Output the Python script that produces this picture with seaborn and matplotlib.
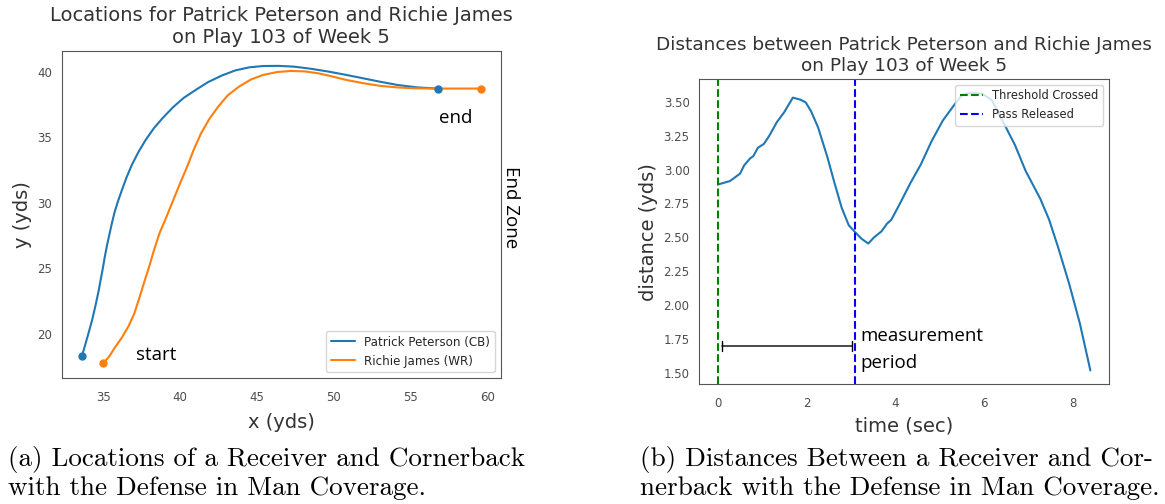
import matplotlib
matplotlib.use("Agg")
import matplotlib.pyplot as plt
import seaborn as sns
import pandas as pd

# player tracks (yards)
cb_x = [33.61, 33.83, 34.05, 34.28, 34.50, 34.70, 34.84, 34.97, 35.10, 35.25,
        35.40, 35.57, 35.74, 35.95, 36.19, 36.50, 36.86, 37.30, 37.76, 38.30,
        38.89, 39.55, 40.23, 41.00, 41.81, 42.70, 43.60, 44.50, 45.40, 46.40,
        47.42, 48.50, 49.67, 50.80, 51.91, 53.00, 54.16, 55.40, 56.74]
cb_y = [18.30, 19.19, 20.10, 21.09, 22.20, 23.30, 24.20, 25.00, 25.90, 26.80,
        27.60, 28.50, 29.30, 30.10, 30.90, 31.90, 32.90, 33.90, 34.80, 35.70,
        36.50, 37.30, 38.00, 38.60, 39.20, 39.70, 40.10, 40.33, 40.43, 40.44,
        40.38, 40.22, 40.00, 39.75, 39.49, 39.23, 38.98, 38.80, 38.71]
wr_x = [35.00, 35.40, 35.74, 36.20, 36.64, 37.00, 37.31, 37.65, 37.99, 38.30,
        38.66, 39.10, 39.56, 40.00, 40.46, 40.90, 41.36, 41.90, 42.48, 43.10,
        43.83, 44.60, 45.40, 46.30, 47.20, 48.10, 49.00, 49.90, 50.79, 51.90,
        53.04, 54.20, 55.28, 56.40, 57.53, 58.50, 59.55]
wr_y = [17.74, 18.30, 18.93, 19.70, 20.58, 21.50, 22.61, 23.90, 25.15, 26.40,
        27.69, 28.90, 30.23, 31.50, 32.77, 34.10, 35.30, 36.40, 37.34, 38.20,
        38.86, 39.40, 39.75, 39.97, 40.05, 40.02, 39.87, 39.63, 39.37, 39.12,
        38.91, 38.79, 38.73, 38.71, 38.71, 38.71, 38.71]

# distance between the two players over time
time_sec = [0.00, 0.27, 0.39, 0.50, 0.59, 0.72, 0.80, 0.90, 1.04, 1.16, 1.33, 1.49,
            1.69, 1.86, 1.98, 2.10, 2.26, 2.47, 2.63, 2.79, 2.95, 3.09, 3.24, 3.39,
            3.52, 3.69, 3.81, 3.91, 4.09, 4.34, 4.58, 4.82, 5.07, 5.36, 5.51, 5.70,
            5.96, 6.18, 6.45, 6.70, 6.94, 7.27, 7.47, 7.67, 7.92, 8.16, 8.40]
distance = [2.89, 2.915, 2.944, 2.97, 3.03, 3.08, 3.10, 3.16, 3.19, 3.25, 3.35, 3.42,
            3.53, 3.515, 3.495, 3.43, 3.31, 3.09, 2.90, 2.72, 2.59, 2.54, 2.49, 2.455,
            2.50, 2.545, 2.60, 2.63, 2.74, 2.90, 3.04, 3.21, 3.36, 3.49, 3.55, 3.565,
            3.56, 3.51, 3.34, 3.18, 2.99, 2.785, 2.63, 2.43, 2.16, 1.87, 1.52]
threshold_t = 0.0
pass_t = 3.1

title_loc = "Locations for Patrick Peterson and Richie James\non Play 103 of Week 5"
title_dist = "Distances between Patrick Peterson and Richie James\non Play 103 of Week 5"
cap_a = ["(a) Locations of a Receiver and Cornerback",
         "with the Defense in Man Coverage."]
cap_b = ["(b) Distances Between a Receiver and Cor-",
         "nerback with the Defense in Man Coverage."]

sns.set_style("white")
W, H = 1165, 504
fig = plt.figure(figsize=(W / 100, H / 100), dpi=100)

def box(x0, y0, x1, y1):
    return [x0 / W, 1 - y1 / H, (x1 - x0) / W, (y1 - y0) / H]

ann = dict(family=["Open Sans", "DejaVu Sans"], color="black")

# ---- left: locations
ax1 = fig.add_axes(box(62, 51, 500.7, 378.3))
cb = pd.DataFrame({"x": cb_x, "y": cb_y})
wr = pd.DataFrame({"x": wr_x, "y": wr_y})
sns.lineplot(data=cb, x="x", y="y", sort=False, ax=ax1, color="#1f77b4",
             lw=1.5, label="Patrick Peterson (CB)")
sns.lineplot(data=wr, x="x", y="y", sort=False, ax=ax1, color="#ff7f0e",
             lw=1.5, label="Richie James (WR)")
ax1.scatter([cb_x[0], cb_x[-1]], [cb_y[0], cb_y[-1]], color="#1f77b4", s=25, zorder=3)
ax1.scatter([wr_x[0], wr_x[-1]], [wr_y[0], wr_y[-1]], color="#ff7f0e", s=25, zorder=3)
ax1.set_title(title_loc, fontsize=14, color=".2")
ax1.set_xlabel("x (yds)", fontsize=14, color=".2", labelpad=6)
ax1.set_ylabel("y (yds)", fontsize=14, color=".2")
ax1.legend(loc="lower right", fontsize=8.6)

# ---- right: distances
ax2 = fig.add_axes(box(699.3, 79, 1109, 384.3))
dist = pd.DataFrame({"time": time_sec, "distance": distance})
sns.lineplot(data=dist, x="time", y="distance", ax=ax2, color="#1f77b4", lw=1.5)
ax2.axvline(threshold_t, color="green", ls="--", lw=1.5, label="Threshold Crossed")
ax2.axvline(pass_t, color="blue", ls="--", lw=1.5, label="Pass Released")
ax2.annotate("", xy=(threshold_t + 0.09, 1.70), xytext=(pass_t - 0.08, 1.70),
             arrowprops=dict(arrowstyle="|-|, widthA=0.35, widthB=0.35",
                             color="black", lw=1, shrinkA=0, shrinkB=0))
ax2.set_title(title_dist, fontsize=13.3, color=".2")
ax2.set_xlabel("time (sec)", fontsize=14, color=".2", labelpad=4)
ax2.set_ylabel("distance (yds)", fontsize=14, color=".2")
ax2.legend(loc="upper right", fontsize=8.3)

for ax in (ax1, ax2):
    ax.tick_params(labelsize=8.5, labelcolor=".3")
    ax.tick_params(axis="x", pad=6)
    for s in ax.spines.values():
        s.set_color("#555555")

# ---- annotations
fig.text(156 / W, 1 - 355 / H, "start", ha="center", va="center", fontsize=13.5, **ann)
fig.text(456 / W, 1 - 118 / H, "end", ha="center", va="center", fontsize=13.5, **ann)
fig.text(511 / W, 1 - 207 / H, "End Zone", ha="center", va="center",
         rotation=270, fontsize=13.5, **ann)
fig.text(860 / W, 1 - 336 / H, "measurement", ha="left", va="center", fontsize=13.5, **ann)
fig.text(860 / W, 1 - 363 / H, "period", ha="left", va="center", fontsize=13.5, **ann)

# ---- captions
for x0, lines in ((8, cap_a), (640, cap_b)):
    for yb, line in zip((466, 495), lines):
        fig.text(x0 / W, 1 - yb / H, line, ha="left", va="baseline",
                 fontsize=19.5, family="cmr10", color="black")

fig.savefig("out.png", dpi=100)
